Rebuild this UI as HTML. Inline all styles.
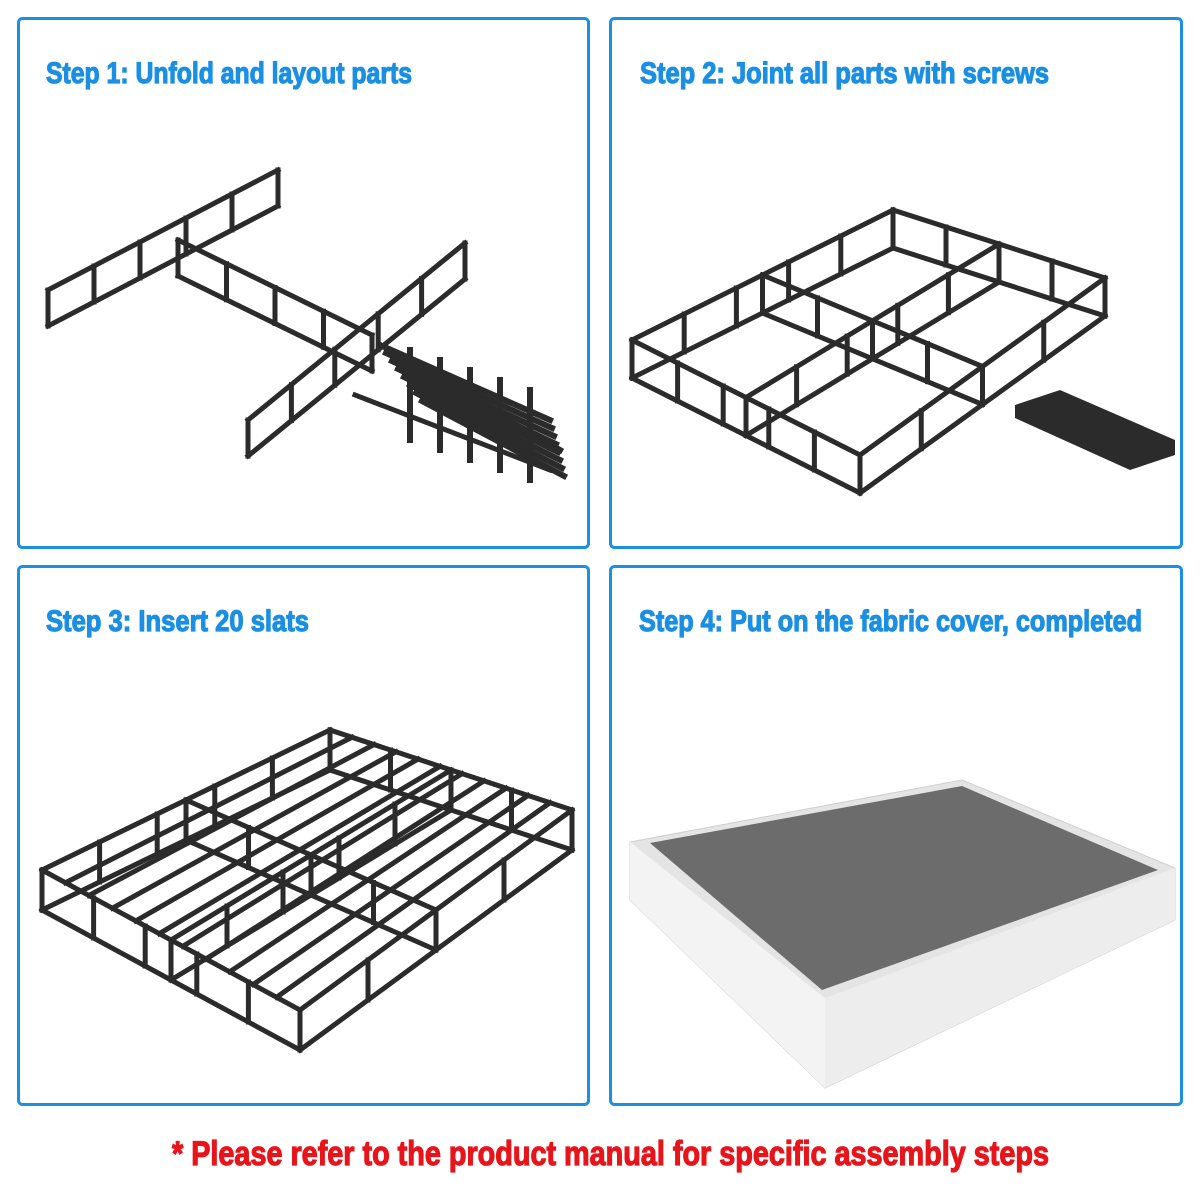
<!DOCTYPE html>
<html><head><meta charset="utf-8"><style>
html,body{margin:0;padding:0;background:#fff;width:1200px;height:1200px;overflow:hidden}
</style></head><body>
<svg id="s" width="1200" height="1200" viewBox="0 0 1200 1200" xmlns="http://www.w3.org/2000/svg">
<g fill="none" stroke="#1a8fe3" stroke-width="3">
<rect x="18.5" y="18.5" width="570" height="529" rx="4"/>
<rect x="610.5" y="18.5" width="571" height="529" rx="4"/>
<rect x="18.5" y="566.5" width="570" height="538" rx="4"/>
<rect x="610.5" y="566.5" width="571" height="538" rx="4"/>
</g>
<g font-family="'Liberation Sans Narrow','Liberation Sans',sans-serif" font-weight="bold" fill="#1a8fe3" stroke="#1a8fe3" stroke-width="1.2" font-size="30">
<text x="46" y="83" textLength="366" lengthAdjust="spacingAndGlyphs">Step 1: Unfold and layout parts</text>
<text x="640" y="83" textLength="409" lengthAdjust="spacingAndGlyphs">Step 2:  Joint all parts with screws</text>
<text x="46" y="631" textLength="263" lengthAdjust="spacingAndGlyphs">Step 3: Insert 20 slats</text>
<text x="639" y="631" textLength="503" lengthAdjust="spacingAndGlyphs">Step 4: Put on the fabric cover, completed</text>
</g>
<text x="172" y="1165" textLength="877" lengthAdjust="spacingAndGlyphs" font-family="'Liberation Sans Narrow','Liberation Sans',sans-serif" font-weight="bold" font-size="34" fill="#e8141b" stroke="#e8141b" stroke-width="1.2">* Please refer to the product manual for specific assembly steps</text>
<polygon points="630,842 962,780 1175,868 1175,920 825,1088 630,900" fill="#e4e4e4" stroke="#cfcfcf"/>
<polygon points="630,842 825,998 1175,868 1175,920 825,1088 630,900" fill="#ededed"/>
<polygon points="630,842 825,998 825,1088 630,900" fill="#f3f3f3"/>
<polygon points="650,843 962,786 1158,870 822,990" fill="#6c6c6c"/>
<g id="fr" stroke="#2b2b2b" fill="none" stroke-linecap="square"></g>
</svg>
<script>
var g=document.getElementById('fr');
function L(a,b,w){var l=document.createElementNS('http://www.w3.org/2000/svg','line');l.setAttribute('x1',a[0]);l.setAttribute('y1',a[1]);l.setAttribute('x2',b[0]);l.setAttribute('y2',b[1]);l.setAttribute('stroke-width',w||5);g.appendChild(l);}
function lp(a,b,t){return [a[0]+(b[0]-a[0])*t,a[1]+(b[1]-a[1])*t];}
function dn(p,h){return [p[0],p[1]+h];}
function bar(a,b,h,n,w){L(a,b,w);L(dn(a,h),dn(b,h),w);for(var i=0;i<=n;i++){var p=lp(a,b,i/n);L(p,dn(p,h),w);}}
function frame(A,B,C,D,h,slats,posts){
 bar(A,B,h,posts[0]);bar(B,C,h,posts[1]);bar(D,C,h,posts[1]);bar(A,D,h,posts[0]);
 bar(lp(A,D,.5),lp(B,C,.5),h,posts[0]);bar(lp(A,B,.5),lp(D,C,.5),h,posts[1]);
 for(var i=1;i<=slats;i++){var t=i/(slats+1);L(lp(A,D,t),lp(B,C,t),5);}
}
frame([42,870],[330,730],[572,810],[300,1010],40,10,[5,4]);
frame([632,340],[893,210],[1105,278],[860,455],38,0,[5,4]);
var p=document.createElementNS('http://www.w3.org/2000/svg','polygon');p.setAttribute('points','1015,405 1060,390 1175,440 1175,455 1130,470 1015,418');p.setAttribute('fill','#2b2b2b');document.getElementById('s').appendChild(p);
bar([48,290],[278,170],36,5);
bar([178,240],[372,335],36,4);
bar([248,420],[465,243],36,5);
for(var i=0;i<8;i++){L([380+i*6,345+i*8],[560-10+i*2,420+i*8],6);}
L([355,395],[550,470],5);L([400,360],[560,450],6);
for(var i=0;i<5;i++){L([410+i*30,350+i*10],[410+i*30,440+i*10],6);}
</script>
</body></html>
